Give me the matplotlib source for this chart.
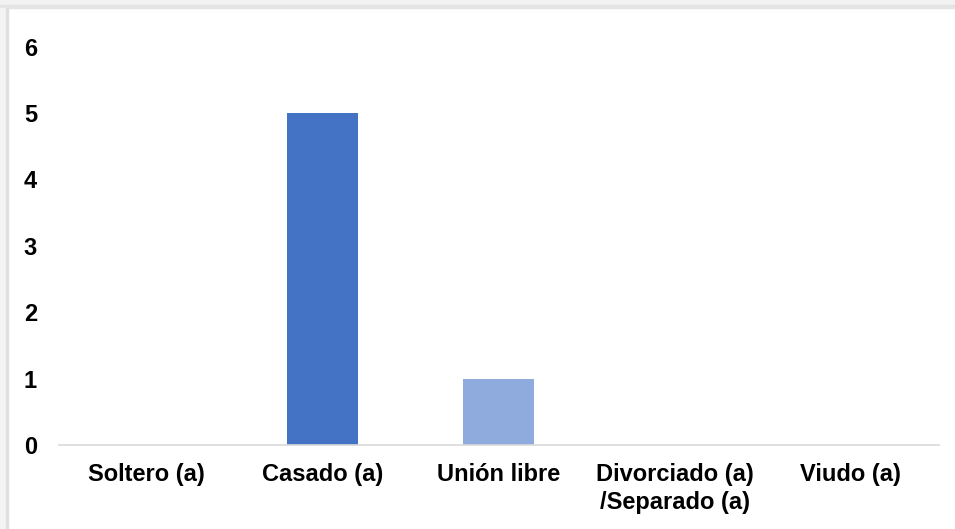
import matplotlib.pyplot as plt
from matplotlib.patches import Rectangle

categories = ["Soltero (a)", "Casado (a)", "Unión libre",
              "Divorciado (a)\n/Separado (a)", "Viudo (a)"]
values = [0, 5, 1, 0, 0]
bar_colors = ["#4472C4", "#4472C4", "#8FAADC", "#4472C4", "#4472C4"]
yticks = [0, 1, 2, 3, 4, 5, 6]

plt.rcParams["font.family"] = ["Liberation Sans", "DejaVu Sans"]

fig = plt.figure(figsize=(9.55, 5.29), dpi=100)
W, H = 955, 529

# light frame look: gray band on top and thin edge on the left
fig.patches.append(Rectangle((0, 1 - 5 / H), 1, 5 / H, transform=fig.transFigure,
                             color="#f2f2f2", zorder=0))
fig.patches.append(Rectangle((0, 1 - 8 / H), 1, 3 / H, transform=fig.transFigure,
                             color="#e4e4e4", zorder=0))
fig.patches.append(Rectangle((0, 0), 6 / W, 1 - 8 / H, transform=fig.transFigure,
                             color="#f4f4f4", zorder=0))
fig.patches.append(Rectangle((6 / W, 0), 1.5 / W, 1 - 8 / H, transform=fig.transFigure,
                             color="#e0e0e0", zorder=0))

left, right = 58.5 / W, 938.5 / W
bottom, top = (H - 445) / H, (H - 46.6) / H
ax = fig.add_axes([left, bottom, right - left, top - bottom])
ax.patch.set_alpha(0)

x = range(len(categories))
ax.bar(x, values, width=0.40, color=bar_colors, zorder=2)

ax.set_xlim(-0.5, len(categories) - 0.5)
ax.set_ylim(0, 6)
ax.set_yticks(yticks)
ax.set_xticks(list(x))
ax.set_xticklabels(categories, fontsize=17, fontweight="bold", linespacing=1.28)
ax.set_yticklabels([str(t) for t in yticks], fontsize=17, fontweight="bold")

for s in ["top", "right", "left"]:
    ax.spines[s].set_visible(False)
ax.spines["bottom"].set_color("#d9d9d9")
ax.spines["bottom"].set_linewidth(1.2)
ax.tick_params(axis="both", length=0)
ax.tick_params(axis="x", pad=13)
ax.tick_params(axis="y", pad=15.5)

fig.savefig("out.png", dpi=100, facecolor="white")
